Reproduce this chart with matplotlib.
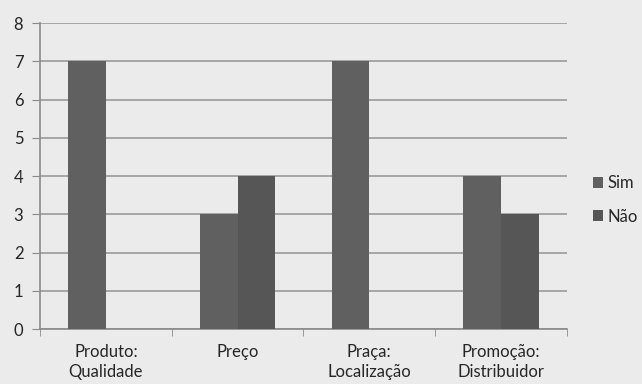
import numpy as np
import matplotlib.pyplot as plt
from matplotlib.ticker import FixedLocator

categories = ['Produto:\nQualidade', 'Preço', 'Praça:\nLocalização', 'Promoção:\nDistribuidor']
sim = [7, 3, 7, 4]
nao = [0, 4, 0, 3]

plt.rcParams['font.family'] = ['Lato', 'DejaVu Sans']

bg = '#ebebeb'
fig = plt.figure(figsize=(6.42, 3.84), dpi=100, facecolor=bg)
ax = fig.add_axes([0.0623, 0.1432, 0.8207, 0.7968], facecolor=bg)

x = np.arange(len(categories))
w = 1 / 3.5
ax.bar(x - w / 2, sim, w, color='#606060', label='Sim', zorder=3)
ax.bar(x + w / 2, nao, w, color='#565656', label='Não', zorder=3)

ax.set_xlim(-0.5, len(categories) - 0.5)
ax.set_ylim(0, 8)
ax.set_yticks(range(0, 9))
ax.yaxis.grid(True, color='#9a9a9a', linewidth=1.2, zorder=0)
ax.set_xticks(x)
ax.set_xticklabels(categories, fontsize=12, color='#262626', linespacing=1.3)
ax.xaxis.set_minor_locator(FixedLocator(np.arange(-0.5, len(categories), 1)))
ax.tick_params(axis='x', which='major', length=0, pad=11)
ax.tick_params(axis='x', which='minor', length=5, color='#8a8a8a')
ax.tick_params(axis='y', length=6, color='#8a8a8a', labelsize=12, labelcolor='#262626', pad=6)

for s in ['top', 'right']:
    ax.spines[s].set_visible(False)
for s in ['left', 'bottom']:
    ax.spines[s].set_color('#8a8a8a')
    ax.spines[s].set_linewidth(1.2)

ax.legend(loc='center left', bbox_to_anchor=(1.037, 0.422), frameon=False,
          fontsize=12, handlelength=0.6, handleheight=0.6, handletextpad=0.25,
          labelspacing=1.05, labelcolor='#262626', borderaxespad=0)

fig.savefig('out.png', dpi=100, facecolor=bg)
